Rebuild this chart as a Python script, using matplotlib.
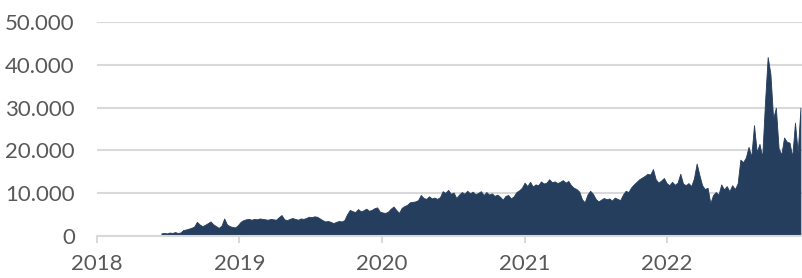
import matplotlib
matplotlib.use("Agg")
import matplotlib.pyplot as plt
import matplotlib.dates as mdates
import pandas as pd
import numpy as np

# Weekly values (thousands) starting mid-June 2018
start_date = "2018-06-15"
values_2018 = [0.5, 0.6, 0.5, 0.7, 0.6, 0.8, 0.6, 0.7, 1.3, 1.4, 1.6, 1.8, 2.1, 3.2, 2.6,
               2.2, 2.5, 2.9, 3.3, 2.6, 2.2, 1.8, 2.3, 4.0, 2.6, 2.2, 2.0, 1.9, 2.4]
values_2019 = [3.2, 3.6, 3.8, 3.9, 3.7, 3.9, 3.8, 4.0, 3.9, 3.8, 3.7, 3.9, 3.8, 3.7, 4.3,
               4.8, 3.8, 3.6, 3.9, 4.1, 3.9, 3.7, 4.0, 3.9, 4.1, 4.4, 4.3, 4.5, 4.4, 4.0,
               3.6, 3.3, 3.4, 3.2, 2.9, 3.2, 3.4, 3.3, 3.6, 5.0, 6.0, 5.7, 5.5, 6.2, 5.7,
               5.9, 6.3, 5.8, 6.0, 6.4, 6.6, 5.6]
values_2020 = [5.4, 5.3, 5.6, 6.3, 6.8, 6.0, 5.3, 6.5, 6.9, 7.2, 7.8, 7.9, 8.0, 8.3, 9.5,
               8.8, 8.6, 9.2, 8.7, 8.9, 8.6, 9.0, 10.4, 10.0, 10.7, 9.8, 10.1, 8.8, 9.6, 10.2,
               9.8, 10.5, 9.9, 10.3, 9.7, 10.0, 10.4, 9.5, 10.2, 9.6, 9.9, 9.3, 9.6, 9.1, 8.4,
               9.3, 9.5, 8.7, 9.2, 10.2, 10.6, 11.2]
values_2021 = [12.4, 11.6, 12.6, 11.5, 12.0, 11.8, 12.7, 12.2, 12.4, 13.2, 12.5, 12.7, 12.3,
               12.6, 13.0, 12.4, 12.8, 11.8, 11.2, 10.9, 10.3, 8.5, 7.8, 9.6, 10.5, 9.8, 8.6,
               8.0, 8.4, 8.8, 8.5, 8.7, 8.2, 8.9, 8.6, 8.3, 9.6, 10.5, 10.2, 11.3, 12.0, 12.6,
               13.2, 13.6, 14.0, 14.5, 14.3, 15.6, 13.2, 12.4, 12.9, 13.5]
values_2022 = [12.3, 11.8, 12.6, 11.9, 12.4, 14.5, 12.2, 11.8, 12.3, 11.6, 13.4, 16.9, 14.2,
               11.8, 10.9, 11.2, 7.6, 9.5, 10.2, 9.6, 12.0, 10.8, 11.6, 10.4, 11.8, 10.9, 12.2,
               17.8, 17.2, 18.3, 20.8, 18.5, 25.9, 19.6, 21.5, 18.4, 31.0, 41.9, 38.0, 27.5,
               30.0, 20.5, 19.0, 23.0, 22.0, 21.8, 18.5, 26.5, 19.5, 30.0]

yticks = [0, 10000, 20000, 30000, 40000, 50000]
ytick_labels = ["0", "10.000", "20.000", "30.000", "40.000", "50.000"]
xtick_years = [2018, 2019, 2020, 2021, 2022]

values = np.array(values_2018 + values_2019 + values_2020 + values_2021 + values_2022) * 1000
dates = pd.date_range(start_date, periods=len(values), freq="7D")

fig = plt.figure(figsize=(8.02, 2.78), dpi=100)
ax = fig.add_axes([97 / 802, 42.5 / 278, 705 / 802, 213 / 278])

ax.fill_between(dates, values, 0, color="#253E5E", linewidth=0.6, edgecolor="#253E5E")

ax.set_ylim(0, 50000)
ax.set_xlim(pd.Timestamp("2018-01-01"), pd.Timestamp("2022-12-13"))
ax.set_yticks(yticks)
ax.set_yticklabels(ytick_labels)
ax.set_xticks([pd.Timestamp(f"{y}-01-01") for y in xtick_years])
ax.set_xticklabels([str(y) for y in xtick_years])

for s in ["top", "right", "left"]:
    ax.spines[s].set_visible(False)
ax.spines["bottom"].set_color("#d9d9d9")
ax.spines["bottom"].set_linewidth(1.5)
ax.spines["bottom"].set_zorder(3)

ax.grid(axis="y", color="#d9d9d9", linewidth=1.5)
ax.set_axisbelow(True)
ax.tick_params(axis="y", length=0, pad=16, labelsize=16, labelcolor="#595959")
ax.tick_params(axis="x", length=5, width=1.5, color="#d9d9d9", pad=8,
               labelsize=16, labelcolor="#595959")
for lbl in ax.get_xticklabels() + ax.get_yticklabels():
    lbl.set_family(["Lato", "DejaVu Sans"])

fig.savefig("out.png", dpi=100)
